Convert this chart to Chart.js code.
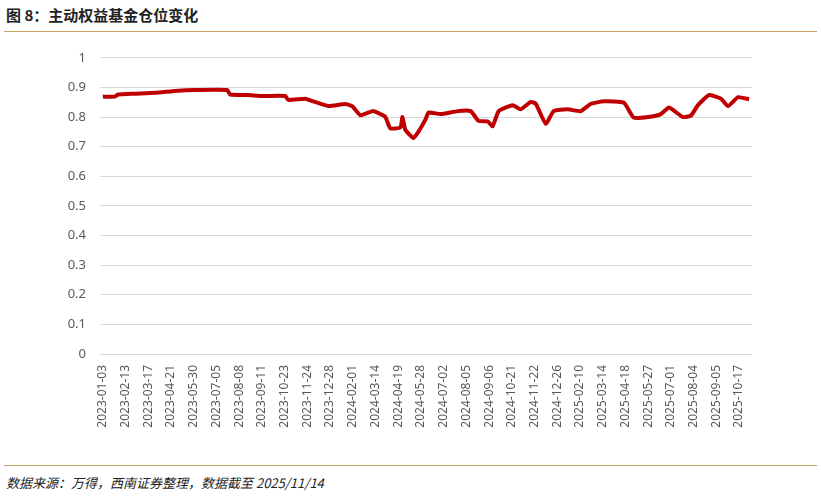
<!DOCTYPE html>
<html>
<head>
<meta charset="utf-8">
<script src="https://cdn.jsdelivr.net/npm/chart.js@4"></script>
<style>
	body { margin: 0; background: #fff; width: 821px; height: 498px; position: relative; font-family: 'Noto Sans CJK SC', sans-serif; }
	.title { position: absolute; left: 6px; top: 4px; font-size: 15px; font-weight: bold; color: #222; }
	.rule { position: absolute; left: 4px; width: 813px; height: 1px; background: #c9a063; }
	.source { position: absolute; left: 6px; top: 473px; font-size: 13px; font-style: italic; color: #222; }
	#wrap { position: absolute; left: 0; top: 36px; width: 821px; height: 426px; }
</style>
</head>
<body>
<div class="title">图 8：主动权益基金仓位变化</div>
<div class="rule" style="top:31px"></div>
<div id="wrap"><canvas id="chart"></canvas></div>
<div class="rule" style="top:465px"></div>
<div class="source">数据来源：万得，西南证券整理，数据截至 2025/11/14</div>
<script>
const tickLabels = ['2023-01-03', '2023-02-13', '2023-03-17', '2023-04-21', '2023-05-30', '2023-07-05',
	'2023-08-08', '2023-09-11', '2023-10-23', '2023-11-24', '2023-12-28', '2024-02-01', '2024-03-14',
	'2024-04-19', '2024-05-28', '2024-07-02', '2024-08-05', '2024-09-06', '2024-10-21', '2024-11-22',
	'2024-12-26', '2025-02-10', '2025-03-14', '2025-04-18', '2025-05-27', '2025-07-01', '2025-08-04',
	'2025-09-05', '2025-10-17'];
const labelStep = 22 / 28; // date-axis units between two printed labels

// position along the date axis (0 = first label, 22 = last label)
const datePos = [0, 0.42, 0.52, 1.11, 1.8, 2.6, 3.19, 4.3, 4.4, 5.02, 5.51, 6.31, 6.41, 7.0, 7.24, 7.8,
	8.38, 8.63, 8.91, 9.32, 9.53, 9.77, 9.94, 10.29, 10.36, 10.46, 10.74, 10.91, 11.16, 11.26, 11.68,
	12.27, 12.72, 12.99, 13.31, 13.48, 13.69, 14.17, 14.45, 14.8, 14.97, 15.32, 15.59, 16.08, 16.53,
	16.87, 17.33, 18.02, 18.36, 18.85, 19.3, 19.58, 20.06, 20.34, 20.58, 20.96, 21.38, 21.62, 21.97, 22.35];
const position = [0.869, 0.869, 0.876, 0.879, 0.882, 0.889, 0.891, 0.891, 0.876, 0.874, 0.871, 0.871,
	0.858, 0.862, 0.854, 0.837, 0.844, 0.836, 0.806, 0.82, 0.813, 0.80, 0.762, 0.765, 0.80, 0.757, 0.729,
	0.75, 0.792, 0.815, 0.81, 0.82, 0.82, 0.787, 0.785, 0.769, 0.82, 0.84, 0.826, 0.851, 0.845, 0.777,
	0.82, 0.826, 0.82, 0.844, 0.853, 0.848, 0.798, 0.80, 0.81, 0.832, 0.80, 0.805, 0.84, 0.874, 0.862,
	0.837, 0.867, 0.86];

const points = datePos.map((x, i) => ({ x, y: position[i] }));

new Chart(document.getElementById('chart'), {
	type: 'line',
	data: {
		datasets: [{
			data: points,
			borderColor: '#c00000',
			borderWidth: 4,
			pointRadius: 0,
			tension: 0.15,
		}],
	},
	options: {
		animation: false,
		responsive: true,
		maintainAspectRatio: false,
		layout: { padding: { top: 18, right: 69, left: 0, bottom: 0 } },
		plugins: { legend: { display: false }, tooltip: { enabled: false } },
		scales: {
			x: {
				type: 'linear',
				min: -0.1,
				max: 22.45,
				afterFit: (s) => { s.height = 108; },
				afterBuildTicks: (s) => { s.ticks = tickLabels.map((_, i) => ({ value: i * labelStep })); },
				grid: { display: false },
				border: { display: false },
				ticks: {
					autoSkip: false,
					maxRotation: 90,
					minRotation: 90,
					color: '#595959',
					font: { size: 12, family: 'Noto Sans' },
					callback: (v) => tickLabels[Math.round(v / labelStep)] || '',
				},
			},
			y: {
				min: 0,
				max: 1,
				afterFit: (s) => { s.width = 100; },
				grid: { color: '#d9d9d9', drawTicks: false },
				border: { display: false },
				ticks: {
					stepSize: 0.1,
					padding: 14,
					color: '#595959',
					font: { size: 13, family: 'Noto Sans' },
					callback: (v) => +v.toFixed(1),
				},
			},
		},
	},
});
</script>
</body>
</html>
